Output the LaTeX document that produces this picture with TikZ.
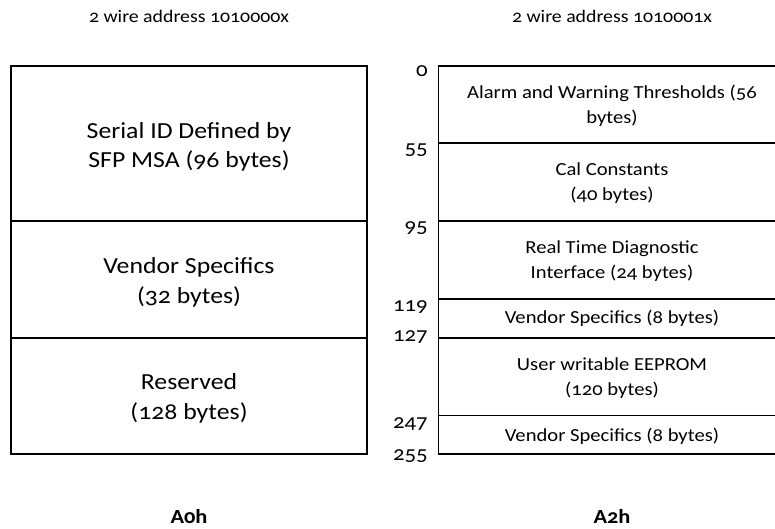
\documentclass[tikz,border=0pt]{standalone}
\usepackage{fontspec}
\setmainfont{Carlito}[Numbers=OldStyle, FakeStretch=1.12]
\begin{document}
\begin{tikzpicture}[x=1pt,y=-1pt,
  thickline/.style={line width=1.7pt},
  thinline/.style={line width=0.9pt},
  vline/.style={line width=1.3pt},
  bigtxt/.style={font=\fontsize{23}{29.5}\selectfont, align=center},
  midtxt/.style={font=\fontsize{18.4}{25}\selectfont, align=center},
  numtxt/.style={font=\fontsize{20.4}{22}\selectfont, anchor=east, inner sep=0pt},
  toptxt/.style={font=\fontsize{17.7}{19}\selectfont},
  bottxt/.style={font=\bfseries\fontsize{20}{22}\selectfont, anchor=base}]
\useasboundingbox (0,0) rectangle (775,528);
% left table
\draw[vline] (11,66) -- (11,454);
\draw[vline] (367,66) -- (367,454);
\draw[thickline] (10.3,66) -- (367.7,66);
\draw[thickline] (10.3,221) -- (367.7,221);
\draw[thickline] (10.3,338) -- (367.7,338);
\draw[thickline] (10.3,454) -- (367.7,454);
\node[bigtxt] (serial) at (189,147) {Serial ID Defined by\\SFP MSA (96 bytes)};
\node[bigtxt] (vend1) at (189,282.5) {Vendor Specifics\\(32 bytes)};
\node[bigtxt] (resv) at (189,398.5) {Reserved\\(128 bytes)};
% right table
\draw[vline] (438.5,66) -- (438.5,454);
\draw[thickline] (437.8,66) -- (785,66);
\draw[thickline] (437.8,143) -- (785,143);
\draw[thickline] (437.8,221) -- (785,221);
\draw[thickline] (437.8,299) -- (785,299);
\draw[thickline] (437.8,338) -- (785,338);
\draw[thinline] (437.8,415) -- (785,415);
\draw[thickline] (437.8,454) -- (785,454);
\node[midtxt] (alarm) at (612,106) {Alarm and Warning Thresholds (56\\bytes)};
\node[midtxt] (cal) at (612,183.5) {Cal Constants\\(40 bytes)};
\node[midtxt] (rtd) at (612,261) {Real Time Diagnostic\\Interface (24 bytes)};
\node[midtxt] (vend2) at (612,318.5) {Vendor Specifics (8 bytes)};
\node[midtxt] (user) at (612,378) {User writable EEPROM\\(120 bytes)};
\node[midtxt] (vend3) at (612,436) {Vendor Specifics (8 bytes)};
% numbers
\node[numtxt] (n0) at (428,71) {0};
\node[numtxt] (n55) at (428,150) {55};
\node[numtxt] (n95) at (428,228) {95};
\node[numtxt] (n119) at (428,307) {119};
\node[numtxt] (n127) at (428,337) {127};
\node[numtxt] (n247) at (428,424) {247};
\node[numtxt] (n255) at (428,456) {255};
% titles
\node[toptxt] (t1) at (189,16) {2 wire address 1010000x};
\node[toptxt] (t2) at (612,16) {2 wire address 1010001x};
\node[bottxt] (b1) at (189,523) {A0h};
\node[bottxt] (b2) at (612,523) {A2h};
\end{tikzpicture}
\end{document}
